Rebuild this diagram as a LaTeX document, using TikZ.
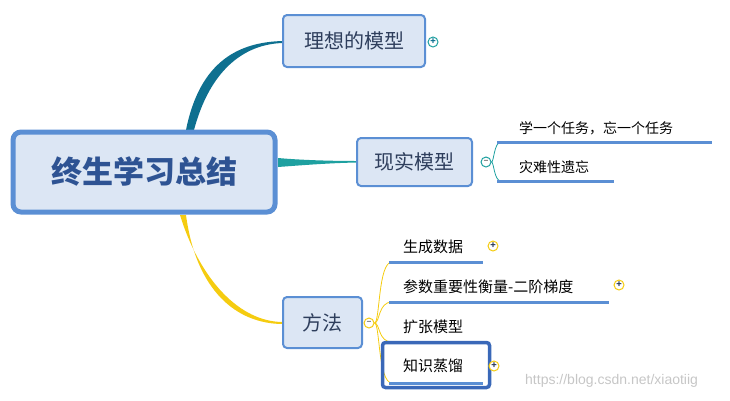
\documentclass[tikz,border=0pt]{standalone}
\usepackage{fontspec}
\setmainfont{Noto Sans CJK SC}
\newfontfamily\wm{Liberation Sans}
\begin{document}
\begin{tikzpicture}[x=1pt,y=-1pt,
  topic/.style={draw=bordblue,fill=boxfill,rounded corners=4pt,line width=2pt,inner sep=0pt,font=\fontsize{20}{20}\selectfont,text=titletext},
  sub/.style={anchor=west,font=\fontsize{15}{15}\selectfont,inner sep=0pt},
  uline/.style={draw=bordblue,line width=3pt},
  tog/.style={circle,draw,line width=1pt,fill=white,minimum size=10pt,inner sep=0pt,font=\fontsize{9}{9}\selectfont\bfseries}]
\definecolor{bordblue}{HTML}{5B8FD4}
\definecolor{boxfill}{HTML}{DCE6F4}
\definecolor{titletext}{HTML}{2E3E5C}
\definecolor{teal1}{HTML}{0E7090}
\definecolor{teal2}{HTML}{1EA0A0}
\definecolor{yel}{HTML}{F5CC10}
\definecolor{rootblue}{HTML}{3A68B8}
\useasboundingbox (0,0) rectangle (730,400);
% connectors
\fill[teal1] (186,130) .. controls (200,60) and (240,42) .. (283,41) -- (283,43) .. controls (244,44) and (210,70) .. (194,130) -- cycle;
\fill[teal2] (278,158) .. controls (300,160) and (330,161) .. (357,161) -- (357,162.5) .. controls (330,163) and (305,165) .. (278,167) -- cycle;
\fill[yel] (180,215) .. controls (200,280) and (240,322) .. (283,322) -- (283,324) .. controls (236,324) and (196,290) .. (186,215) -- cycle;
% root
\node[draw=bordblue,fill=boxfill,rounded corners=8pt,line width=5pt,minimum width=262pt,minimum height=80pt,font=\fontsize{31}{31}\selectfont\bfseries,text=rootblue!80!black] (root) at (144,172) {终生学习总结};
% topics
\node[topic,minimum width=142pt,minimum height=52pt] (t1) at (354,41) {理想的模型};
\node[topic,minimum width=115pt,minimum height=48pt] (t2) at (414.5,162) {现实模型};
\node[topic,minimum width=79pt,minimum height=51pt] (t3) at (322.5,322.5) {方法};
% toggles
\node[tog,draw=teal2,text=teal1] (p1) at (433,42) {+};
\node[tog,draw=teal2,text=gray] (m2) at (486,162) {--};
\node[tog,draw=yel,text=gray] (m3) at (369,323) {--};
% reality children
\draw[teal2,line width=0.8pt] (m2.east) .. controls (494,162) and (494,142) .. (501,142);
\draw[teal2,line width=0.8pt] (m2.east) .. controls (494,162) and (494,181) .. (501,181);
\draw[uline] (497,142) -- (712,142);
\draw[uline] (497,181) -- (614,181);
\node[sub,font=\fontsize{14}{14}\selectfont] (c1) at (519,128) {学一个任务，忘一个任务};
\node[sub,font=\fontsize{14}{14}\selectfont] (c2) at (519,167) {灾难性遗忘};
% method children
\draw[yel,line width=0.8pt] (m3.east) .. controls (380,323) and (378,262) .. (392,262);
\draw[yel,line width=0.8pt] (m3.east) .. controls (380,323) and (378,302) .. (392,302);
\draw[yel,line width=0.8pt] (m3.east) .. controls (380,323) and (378,342) .. (392,342);
\draw[yel,line width=0.8pt] (m3.east) .. controls (380,323) and (378,383) .. (392,383);
\node[draw=rootblue,line width=3.5pt,rounded corners=3pt,minimum width=107pt,minimum height=45pt] (kbox) at (436,365) {};
\draw[uline] (389,262) -- (483,262);
\draw[uline] (389,302) -- (609,302);
\draw[uline] (389,383) -- (483,383);
\node[sub] (d1) at (403,247) {生成数据};
\node[sub] (d2) at (403,287) {参数重要性衡量-二阶梯度};
\node[sub] (d3) at (403,327) {扩张模型};
\node[sub] (d4) at (403,366) {知识蒸馏};
\node[tog,draw=yel,text=titletext] at (493,246) {+};
\node[tog,draw=yel,text=titletext] at (619,285) {+};
\node[tog,draw=yel,text=titletext] at (494,366) {+};
% watermark
\node[anchor=west,text=gray!45,font=\wm\fontsize{14}{14}\selectfont,inner sep=0pt] (w) at (525,381) {https://blog.csdn.net/xiaotiig};
\end{tikzpicture}
\end{document}
